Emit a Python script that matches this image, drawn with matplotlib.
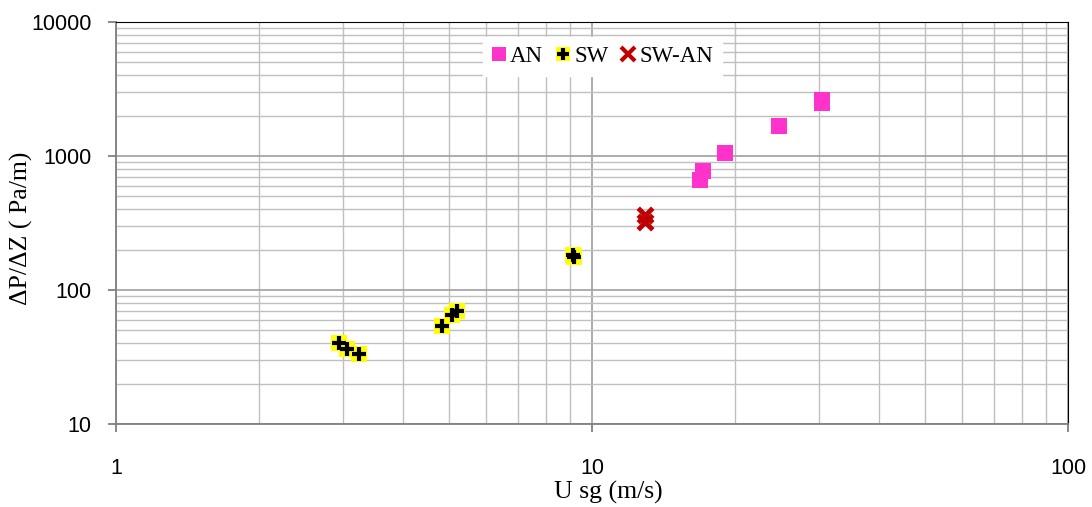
import matplotlib
matplotlib.use("Agg")
import matplotlib.pyplot as plt
from matplotlib.ticker import LogLocator, FixedLocator, NullFormatter
from matplotlib.lines import Line2D

an_x = [16.9, 17.1, 19.0, 24.7, 30.4, 30.4]
an_y = [662, 770, 1052, 1675, 2618, 2490]
sw_x = [2.94, 3.06, 3.24, 4.84, 5.08, 5.2, 9.17, 9.1]
sw_y = [40.2, 36.3, 33.3, 53.8, 65.0, 69.7, 176, 182]
swan_x = [12.9, 12.9]
swan_y = [363, 321]

xticks = [1, 10, 100]
yticks = [10, 100, 1000, 10000]

fig = plt.figure(figsize=(10.92, 5.07), dpi=100)
ax = fig.add_axes([116/1092, 1-424/507, (1068-116)/1092, (424-22)/507])
ax.set_xscale('log')
ax.set_yscale('log')
ax.set_xlim(1, 100)
ax.set_ylim(10, 10000)

ax.grid(True, which='major', color='#a6a6a6', lw=1.3)
ax.grid(True, which='minor', color='#bfbfbf', lw=1.0)
ax.set_axisbelow(True)

ax.scatter(an_x, an_y, marker='s', s=135, color='#ff33cc', zorder=3, linewidths=0)
ax.scatter(sw_x, sw_y, marker='s', s=120, color='#ffff00', zorder=3, linewidths=0)
ax.scatter(sw_x, sw_y, marker='+', s=110, color='black', zorder=4, linewidths=3)
ax.scatter(swan_x, swan_y, marker='x', s=110, color='#c00000', zorder=3, linewidths=3.5)

ax.xaxis.set_major_locator(FixedLocator(xticks))
ax.yaxis.set_major_locator(FixedLocator(yticks))
ax.xaxis.set_minor_locator(LogLocator(base=10, subs=range(2, 10)))
ax.yaxis.set_minor_locator(LogLocator(base=10, subs=range(2, 10)))
ax.xaxis.set_minor_formatter(NullFormatter())
ax.yaxis.set_minor_formatter(NullFormatter())
ax.set_xticklabels([str(v) for v in xticks], fontsize=15.5, family='Liberation Sans')
ax.set_yticklabels([str(v) for v in yticks], fontsize=15.5, family='Liberation Sans')
ax.tick_params(which='minor', length=0)
ax.tick_params(which='major', length=5.8, color='#808080', width=1.3)
ax.tick_params(axis='x', which='major', pad=19)
ax.tick_params(axis='y', which='major', pad=12)

for s in ['left', 'bottom']:
    ax.spines[s].set_color('#808080')
    ax.spines[s].set_linewidth(1.3)
ax.spines['top'].set_color('black')
ax.spines['right'].set_color('black')

ax.set_xlabel('U sg (m/s)', fontsize=18.5, family='Liberation Serif')
ax.set_ylabel('ΔP/ΔZ ( Pa/m)', fontsize=18.5, family='Liberation Serif')
ax.xaxis.set_label_coords(0.5168, (424-481)/402)
ax.yaxis.set_label_coords((33-116)/952, 0.488)

h_an = Line2D([], [], marker='s', ls='', color='#ff33cc', markersize=10, markeredgewidth=0)
h_sw1 = Line2D([], [], marker='s', ls='', color='#ffff00', markersize=10, markeredgewidth=0)
h_sw2 = Line2D([], [], marker='+', ls='', color='black', markersize=9, markeredgewidth=3)
h_swan = Line2D([], [], marker='x', ls='', color='#c00000', markersize=9.5, markeredgewidth=3)
leg = ax.legend([h_an, (h_sw1, h_sw2), h_swan], ['AN', 'SW', 'SW-AN'], loc='upper center',
                bbox_to_anchor=(0.511, 0.975), ncol=3, frameon=True, fancybox=False,
                edgecolor='white', framealpha=1, handlelength=0.65, handletextpad=0.15,
                columnspacing=0.55, borderpad=0.4, borderaxespad=0.2,
                prop={'family': 'Liberation Serif', 'size': 16.5})

fig.savefig('out.png', dpi=100)
